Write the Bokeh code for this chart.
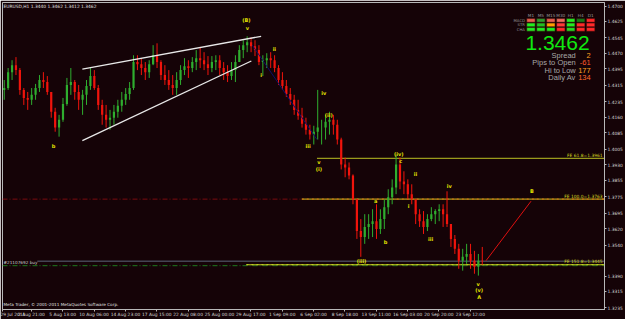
import numpy as np
from bokeh.plotting import figure
from bokeh.models import FixedTicker, Label
from bokeh.core.properties import value
from bokeh.embed import file_html
from bokeh.resources import INLINE

# ---------------- data (EURUSD H1, grouped 8 bars per candle) ----------------
first_open = 1.4293
high = [1.4341,1.4399,1.4437,1.4452,1.4399,1.4302,1.4283,1.4302,1.4322,1.4365,
        1.4379,1.4360,1.4283,1.4206,1.4172,1.4254,1.4351,1.4399,1.4341,1.4317,
        1.4293,1.4341,1.4399,1.4389,1.4317,1.4245,1.4220,1.4196,1.4220,1.4245,
        1.4283,1.4302,1.4331,1.4461,1.4461,1.4447,1.4428,1.4437,1.4510,1.4519,
        1.4437,1.4413,1.4389,1.4365,1.4379,1.4413,1.4447,1.4437,1.4452,1.4486,
        1.4500,1.4476,1.4457,1.4457,1.4461,1.4461,1.4428,1.4413,1.4428,1.4461,
        1.4510,1.4534,1.4553,1.4548,1.4534,1.4510,1.4461,1.4471,1.4476,1.4461,
        1.4413,1.4379,1.4341,1.4302,1.4269,1.4245,1.4206,1.4158,1.4124,1.4119,
        1.4293,1.4148,1.4172,1.4187,1.4172,1.4148,1.4061,1.3965,1.3941,1.3883,
        1.3763,1.3666,1.3690,1.3690,1.3714,1.3738,1.3714,1.3763,1.3811,1.3859,
        1.3979,1.3965,1.3898,1.3859,1.3835,1.3738,1.3714,1.3705,1.3690,1.3724,
        1.3714,1.3738,1.3738,1.3801,1.3642,1.3589,1.3546,1.3522,1.3546,1.3546,
        1.3512,1.3497,1.3531]
low = [1.4245,1.4293,1.4341,1.4365,1.4269,1.4220,1.4196,1.4220,1.4245,1.4283,
       1.4302,1.4269,1.4158,1.4090,1.4066,1.4138,1.4216,1.4269,1.4245,1.4196,
       1.4172,1.4220,1.4293,1.4293,1.4196,1.4124,1.4110,1.4100,1.4124,1.4158,
       1.4187,1.4220,1.4245,1.4293,1.4389,1.4365,1.4341,1.4351,1.4413,1.4399,
       1.4341,1.4317,1.4293,1.4269,1.4269,1.4317,1.4365,1.4351,1.4379,1.4389,
       1.4399,1.4389,1.4365,1.4379,1.4389,1.4365,1.4341,1.4331,1.4341,1.4331,
       1.4428,1.4447,1.4476,1.4476,1.4457,1.4413,1.4360,1.4399,1.4399,1.4379,
       1.4317,1.4293,1.4259,1.4220,1.4172,1.4148,1.4110,1.4076,1.4052,1.4028,
       1.4052,1.4028,1.4052,1.4076,1.4076,1.4028,1.3907,1.3869,1.3859,1.3738,
       1.3570,1.3483,1.3546,1.3570,1.3579,1.3570,1.3594,1.3618,1.3690,1.3738,
       1.3787,1.3811,1.3787,1.3763,1.3738,1.3642,1.3628,1.3594,1.3608,1.3656,
       1.3642,1.3656,1.3628,1.3628,1.3531,1.3497,1.3425,1.3416,1.3449,1.3425,
       1.3401,1.3392,1.3444]
close = [1.4302,1.4379,1.4413,1.4389,1.4293,1.4254,1.4245,1.4269,1.4302,1.4341,
         1.4331,1.4283,1.4187,1.4110,1.4148,1.4225,1.4317,1.4331,1.4283,1.4245,
         1.4269,1.4312,1.4360,1.4302,1.4220,1.4172,1.4148,1.4158,1.4187,1.4216,
         1.4245,1.4273,1.4302,1.4428,1.4418,1.4399,1.4379,1.4418,1.4461,1.4428,
         1.4365,1.4341,1.4317,1.4302,1.4341,1.4389,1.4408,1.4399,1.4428,1.4447,
         1.4437,1.4418,1.4399,1.4428,1.4437,1.4399,1.4379,1.4360,1.4389,1.4428,
         1.4486,1.4510,1.4524,1.4505,1.4486,1.4428,1.4437,1.4447,1.4437,1.4399,
         1.4341,1.4312,1.4273,1.4245,1.4196,1.4167,1.4129,1.4100,1.4076,1.4090,
         1.4110,1.4110,1.4138,1.4148,1.4124,1.4052,1.3931,1.3917,1.3878,1.3763,
         1.3608,1.3579,1.3628,1.3642,1.3656,1.3618,1.3666,1.3724,1.3772,1.3820,
         1.3931,1.3849,1.3835,1.3787,1.3763,1.3690,1.3656,1.3628,1.3666,1.3690,
         1.3705,1.3714,1.3690,1.3642,1.3570,1.3522,1.3464,1.3483,1.3497,1.3464,
         1.3435,1.3464,1.3462]
bars_per_candle = 8

x_tick_bars = [0, 59, 123, 187, 251, 315, 379, 443, 507, 571, 635, 699, 763, 827, 891, 955]
x_tick_labels = ["29 Jul 2011", "2 Aug 21:00", "5 Aug 13:00", "10 Aug 06:00", "14 Aug 23:00",
                 "17 Aug 15:00", "22 Aug 08:00", "25 Aug 00:00", "29 Aug 17:00", "1 Sep 09:00",
                 "6 Sep 02:00", "8 Sep 18:00", "13 Sep 11:00", "16 Sep 03:00", "20 Sep 20:00",
                 "23 Sep 12:00"]
y_ticks = [1.4700, 1.4625, 1.4545, 1.4470, 1.4395, 1.4315, 1.4235, 1.4160, 1.4085, 1.4005,
           1.3930, 1.3855, 1.3775, 1.3695, 1.3620, 1.3540, 1.3390, 1.3315, 1.3235]

last_price = 1.3462
ohlc_title = "EURUSD,H1  1.3440 1.3462 1.3412 1.3462"

# trend lines (bar index, price)
upper_line = ([163, 528], [1.4394, 1.4553])
lower_line = ([163, 508], [1.4047, 1.4433])
wave_line = ([510, 642], [1.4510, 1.4052])
proj_line = ([987, 1079], [1.3464, 1.3753])

# Fibonacci expansion levels
fe_names = ["FE 61.8=1.3961", "FE 100.0=1.3763", "FE 151.8=1.3445"]
fe_levels = [1.3961, 1.3763, 1.3445]
fe_start = [642, 611, 498]
order_price = 1.3440
order_text = "#21107692 buy"

# wave labels
wave_text = ["b", "(B)", "v", "i", "ii", "iii", "iv", "(ii)", "v", "(i)", "(iii)", "a", "b",
             "(iv)", "c", "i", "ii", "iii", "iv", "v", "(v)", "A", "B"]
wave_bar = [104, 498, 500, 528, 555, 624, 656, 666, 646, 646, 733, 762, 782,
            809, 813, 829, 843, 874, 912, 971, 973, 973, 1081]
wave_price = [1.4023, 1.4630, 1.4592, 1.4365, 1.4490, 1.4023, 1.4278, 1.4172, 1.3941, 1.3907,
              1.3464, 1.3753, 1.3555, 1.3984, 1.3946, 1.3729, 1.3883, 1.3570, 1.3825, 1.3353,
              1.3324, 1.3290, 1.3801]

# indicator panel
tf_names = ["M1", "M5", "M15", "M30", "H1", "H4", "D1"]
ind_names = ["MACD", "STR", "CHA"]
ind_colors = [
    ["#e8604e", "#2f9e2f", "#e8604e", "#ee6e5e", "#22ee22", "#177a17", "#ff2a2a"],
    ["#22ee22", "#22c022", "#ffa000", "#ff3a3a", "#22ee22", "#ff2a2a", "#ff2a2a"],
    ["#22ee22", "#22ee22", "#22ee22", "#ff2a2a", "#22dd22", "#ff2a2a", "#ff2a2a"],
]
stat_names = ["Spread", "Pips to Open", "Hi to Low", "Daily Av"]
stat_values = ["2", "-61", "177", "134"]
stat_colors = ["#ffa020", "#ff5a2a", "#ffa020", "#ff6a2a"]

# ---------------- styling / geometry ----------------
BG = "#150307"
FONT = value("DejaVu Sans")
PX_PER_BAR = 0.4922
X_END = 1229
Y_LO, Y_HI = 1.32275, 1.4717

def px2x(px):
    return (px - 2) / PX_PER_BAR

def py2y(py):
    return 1.47265 - 0.000482 * py

p = figure(width=625, height=319, x_range=(0, X_END), y_range=(Y_LO, Y_HI),
           output_backend="svg", toolbar_location=None, y_axis_location="right",
           min_border_left=2, min_border_top=2, min_border_right=0, min_border_bottom=0,
           background_fill_color=BG, border_fill_color=BG,
           outline_line_color="#b8b8b8", outline_line_width=1)
p.grid.visible = False

for ax in (p.xaxis[0], p.yaxis[0]):
    ax.axis_line_color = "#b8b8b8"
    ax.major_tick_line_color = "#b8b8b8"
    ax.minor_tick_line_color = None
    ax.major_tick_in = 0
    ax.major_tick_out = 2
    ax.major_label_standoff = 1
    ax.major_label_text_color = "#d8d8d8"
    ax.major_label_text_font = "DejaVu Sans"

p.xaxis.ticker = FixedTicker(ticks=x_tick_bars)
p.xaxis.major_label_overrides = {b: t for b, t in zip(x_tick_bars, x_tick_labels)}
p.xaxis.major_label_text_align = "left"
p.xaxis.major_label_text_font_size = "4.4px"
p.xaxis.major_label_standoff = 0

p.yaxis.ticker = FixedTicker(ticks=y_ticks)
p.yaxis.major_label_overrides = {v: f"{v:.4f}" for v in y_ticks}
p.yaxis.major_label_text_font_size = "4.4px"

# ---------------- horizontal levels ----------------
p.line([0, X_END], [fe_levels[1], fe_levels[1]], line_color="#7a0c10", line_width=1, line_dash="5 2 1 2")
p.line([0, X_END], [order_price, order_price], line_color="#1d7a1d", line_width=1, line_dash="5 2 1 2")
p.line([px2x(37), X_END], [last_price, last_price], line_color="#5b6478", line_width=1)
for name, lvl, st in zip(fe_names, fe_levels, fe_start):
    p.line([st, X_END], [lvl, lvl], line_color="#9a9a1c", line_width=1.2)
p.line([fe_start[1], X_END], [fe_levels[1]] * 2, line_color="#d07010", line_width=1.2, line_dash="2 3")
p.line([fe_start[2], X_END], [fe_levels[2]] * 2, line_color="#b8d020", line_width=1.2, line_dash="2 3")
p.text(x=[px2x(605)] * 3, y=fe_levels, text=fe_names, text_font=FONT, text_font_size="4.4px",
       text_color="#d8d820", text_align="right", text_baseline="bottom", y_offset=-0.5)

# ---------------- candles ----------------
opens = [first_open] + close[:-1]
xs = [bars_per_candle * k + 3.5 for k in range(len(close))]
up = [c >= o for o, c in zip(opens, close)]
cols = ["#2fae2f" if u else "#f0140c" for u in up]
p.segment(x0=xs, y0=low, x1=xs, y1=high, line_color=cols, line_width=1)
p.vbar(x=xs, top=[max(o, c) for o, c in zip(opens, close)],
       bottom=[min(o, c) for o, c in zip(opens, close)], width=4.5,
       fill_color=cols, line_color=None)

# ---------------- trend lines ----------------
p.line(upper_line[0], upper_line[1], line_color="#e8e8e8", line_width=1.3)
p.line(lower_line[0], lower_line[1], line_color="#e8e8e8", line_width=1.3)
p.line(wave_line[0], wave_line[1], line_color="#10106a", line_width=1)
p.line(proj_line[0], proj_line[1], line_color="#e01010", line_width=1)

# ---------------- wave labels ----------------
p.text(x=wave_bar, y=wave_price, text=wave_text, text_font=FONT, text_font_size="5px",
       text_color="#e6e600", text_align="center", text_baseline="middle", text_font_style="bold")

# ---------------- texts ----------------
p.text(x=[px2x(3)], y=[py2y(6)], text=[ohlc_title], text_font=FONT, text_font_size="4.4px",
       text_color="#e0e0e0", text_align="left", text_baseline="middle")
p.text(x=[px2x(3)], y=[py2y(306)], text=["Meta Trader, © 2001-2011 MetaQuotes Software Corp."],
       text_font=FONT, text_font_size="4.2px", text_color="#e0e0e0", text_align="left",
       text_baseline="middle")
p.text(x=[px2x(3)], y=[py2y(264)], text=[order_text], text_font=FONT, text_font_size="4.2px",
       text_color="#c8c8c8", text_align="left", text_baseline="middle")

# indicator panel
cell_cx = [533 + 10 * i for i in range(len(tf_names))]
cell_cy = [20, 24.5, 29]
lefts, rights, tops, bottoms, fills = [], [], [], [], []
for r, row in enumerate(ind_colors):
    for c, colr in enumerate(row):
        lefts.append(px2x(cell_cx[c] - 4.2)); rights.append(px2x(cell_cx[c] + 4.2))
        tops.append(py2y(cell_cy[r] - 1.8)); bottoms.append(py2y(cell_cy[r] + 1.8))
        fills.append(colr)
p.quad(left=lefts, right=rights, top=tops, bottom=bottoms, fill_color=fills,
       line_color="#300808", line_width=0.5)
p.text(x=[px2x(cx) for cx in cell_cx], y=[py2y(15)] * len(tf_names), text=tf_names,
       text_font=FONT, text_font_size="4.2px", text_color="#9a9a9a", text_align="center",
       text_baseline="middle")
p.text(x=[px2x(527)] * 3, y=[py2y(cy) for cy in cell_cy], text=ind_names, text_font=FONT,
       text_font_size="3.8px", text_color="#9a9a9a", text_align="right", text_baseline="middle")

p.text(x=[px2x(592)], y=[py2y(42.5)], text=[f"{last_price:.4f}"], text_font=value("Liberation Sans"),
       text_font_size="21px", text_color="#10e810", text_align="right", text_baseline="middle")
stat_y = [55, 62.5, 70, 77.5]
p.text(x=[px2x(578)] * 4, y=[py2y(v) for v in stat_y], text=stat_names, text_font=value("Liberation Sans"),
       text_font_size="7.5px", text_color="#a8a8a8", text_align="right", text_baseline="middle")
p.text(x=[px2x(593)] * 4, y=[py2y(v) for v in stat_y], text=stat_values, text_font=value("Liberation Sans"),
       text_font_size="7.5px", text_color=stat_colors, text_align="right", text_baseline="middle")

# current price tag on the axis
p.add_layout(Label(x=px2x(609), y=last_price, text=f"{last_price:.4f}", text_font="DejaVu Sans",
                   text_font_size="4.4px", text_color="black", background_fill_color="white",
                   text_baseline="middle", text_align="left"))

open("out.html", "w").write(file_html(p, INLINE))
